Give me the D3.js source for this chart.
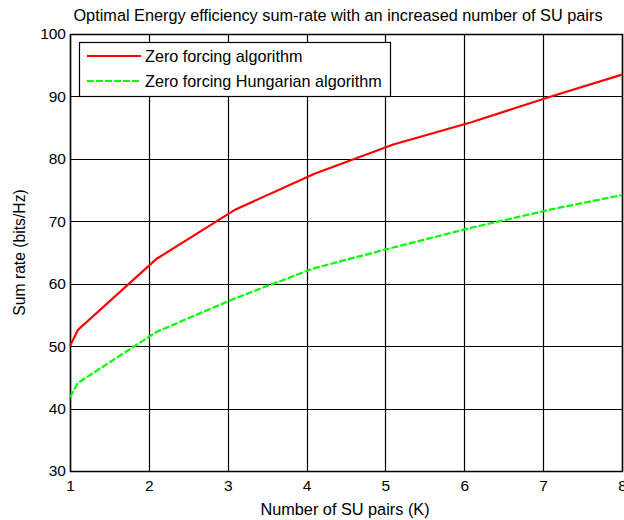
<!DOCTYPE html>
<html>
<head>
<meta charset="utf-8">
<script src="https://cdn.jsdelivr.net/npm/d3@7"></script>
<style>
body { margin: 0; background: #fff; }
text { font-family: "Liberation Sans", Arial, sans-serif; fill: #000; }
</style>
</head>
<body>
<svg id="chart"></svg>
<script>
// data
var kValues = [1, 1.1, 2.1, 3.1, 4.1, 5.1, 6.1, 7.1, 8];
var zeroForcing = [50.0, 52.6, 64.0, 71.9, 77.6, 82.3, 85.9, 90.0, 93.5];
var zeroForcingHungarian = [41.8, 44.1, 52.3, 57.7, 62.5, 65.8, 69.0, 71.9, 74.2];
var xTicks = [1, 2, 3, 4, 5, 6, 7, 8];
var yTicks = [30, 40, 50, 60, 70, 80, 90, 100];
var seriesNames = ["Zero forcing algorithm", "Zero forcing Hungarian algorithm"];

var screen = {width: 624, height: 520}
var margins = {top: 34, bottom: 49, left: 70, right: 2}
var graph = {
    width: screen.width - margins.left - margins.right,
    height: screen.height - margins.top - margins.bottom
}

var svg = d3.select("#chart")
    .attr("width", screen.width)
    .attr("height", screen.height)

var xScale = d3.scaleLinear()
    .domain([1, 8])
    .range([0, graph.width])
var yScale = d3.scaleLinear()
    .domain([30, 100])
    .range([graph.height, 0])

var g = svg.append("g")
    .classed("graph", true)
    .attr("transform", "translate(" + margins.left + "," + margins.top + ")")

// grid
g.append("g").selectAll("line")
    .data(xTicks)
    .enter()
    .append("line")
    .attr("x1", function(d){ return Math.round(xScale(d)) + 0.5 })
    .attr("x2", function(d){ return Math.round(xScale(d)) + 0.5 })
    .attr("y1", 0)
    .attr("y2", graph.height)
    .attr("stroke", "#000")
    .attr("stroke-width", 1.2)

g.append("g").selectAll("line")
    .data(yTicks)
    .enter()
    .append("line")
    .attr("x1", 0)
    .attr("x2", graph.width)
    .attr("y1", function(d){ return Math.round(yScale(d)) + 0.5 })
    .attr("y2", function(d){ return Math.round(yScale(d)) + 0.5 })
    .attr("stroke", "#000")
    .attr("stroke-width", 1.2)

// axes
var xAxis = d3.axisBottom(xScale).tickValues(xTicks).tickSize(0).tickPadding(9).tickFormat(d3.format("d"))
var yAxis = d3.axisLeft(yScale).tickValues(yTicks).tickSize(0).tickPadding(4)

g.append("g")
    .attr("transform", "translate(0," + graph.height + ")")
    .call(xAxis)
    .call(function(a){ a.select(".domain").remove() })
    .selectAll("text")
    .style("font-size", "15.5px")

g.append("g")
    .call(yAxis)
    .call(function(a){ a.select(".domain").remove() })
    .selectAll("text")
    .style("font-size", "15.5px")

// frame
g.append("rect")
    .attr("x", 0.5)
    .attr("y", 0.5)
    .attr("width", graph.width)
    .attr("height", graph.height)
    .attr("fill", "none")
    .attr("stroke", "#000")
    .attr("stroke-width", 1.5)

// lines
var lineGen = d3.line()
    .x(function(d){ return xScale(d[0]) })
    .y(function(d){ return yScale(d[1]) })

var series = [
    {name: seriesNames[0], values: zeroForcing, color: "#ff0000", dash: null},
    {name: seriesNames[1], values: zeroForcingHungarian, color: "#00ff00", dash: "7,2"}
]

g.selectAll(".line")
    .data(series)
    .enter()
    .append("path")
    .classed("line", true)
    .attr("fill", "none")
    .attr("stroke", function(s){ return s.color })
    .attr("stroke-width", 2.2)
    .attr("stroke-dasharray", function(s){ return s.dash })
    .attr("d", function(s){
        return lineGen(s.values.map(function(v, i){ return [kValues[i], v] }))
    })

// legend
var legend = svg.append("g")
    .attr("transform", "translate(79,42)")
legend.append("rect")
    .attr("x", 0.5)
    .attr("y", 0.5)
    .attr("width", 311)
    .attr("height", 54)
    .attr("fill", "#fff")
    .attr("stroke", "#000")
    .attr("stroke-width", 1.2)

var items = legend.selectAll(".item")
    .data(series)
    .enter()
    .append("g")
    .attr("transform", function(s, i){ return "translate(0," + (14 + i * 25) + ")" })
items.append("line")
    .attr("x1", 8)
    .attr("x2", 62)
    .attr("y1", 0)
    .attr("y2", 0)
    .attr("stroke", function(s){ return s.color })
    .attr("stroke-width", 2.2)
    .attr("stroke-dasharray", function(s){ return s.dash })
items.append("text")
    .attr("x", 66)
    .attr("y", 6)
    .style("font-size", "16.2px")
    .text(function(s){ return s.name })

// labels
svg.append("text")
    .attr("x", 338)
    .attr("y", 21)
    .attr("text-anchor", "middle")
    .style("font-size", "16.3px")
    .text("Optimal Energy efficiency sum-rate with an increased number of SU pairs")

svg.append("text")
    .attr("x", 345)
    .attr("y", 515)
    .attr("text-anchor", "middle")
    .style("font-size", "16.3px")
    .text("Number of SU pairs (K)")

svg.append("g")
    .attr("transform", "translate(25," + (margins.top + graph.height / 2) + ")")
    .append("text")
    .attr("transform", "rotate(270)")
    .attr("text-anchor", "middle")
    .style("font-size", "15.7px")
    .text("Sum rate (bits/Hz)")
</script>
</body>
</html>
